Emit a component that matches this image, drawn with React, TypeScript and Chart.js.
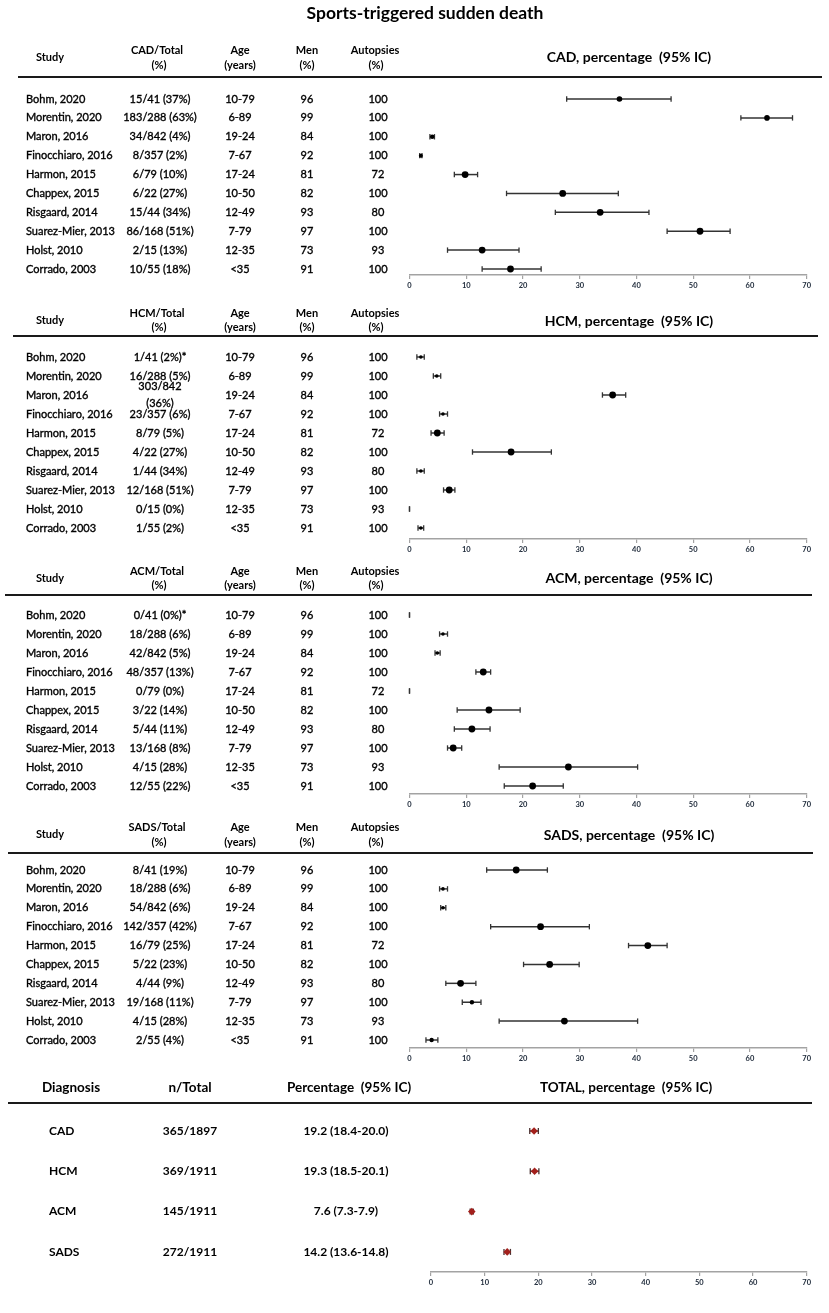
import React, { useEffect, useRef } from 'react';
import { Chart, registerables } from 'chart.js';

Chart.register(...registerables);

// ---------------- DATA ----------------
const studies = ['Bohm, 2020', 'Morentin, 2020', 'Maron, 2016', 'Finocchiaro, 2016', 'Harmon, 2015', 'Chappex, 2015', 'Risgaard, 2014', 'Suarez-Mier, 2013', 'Holst, 2010', 'Corrado, 2003'];
const ages = ['10-79', '6-89', '19-24', '7-67', '17-24', '10-50', '12-49', '7-79', '12-35', '<35'];
const menPct = ['96', '99', '84', '92', '81', '82', '93', '97', '73', '91'];
const autopsyPct = ['100', '100', '100', '100', '72', '100', '80', '100', '93', '100'];
const xTicks = [0, 10, 20, 30, 40, 50, 60, 70];

const cadCounts = ['15/41 (37%)', '183/288 (63%)', '34/842 (4%)', '8/357 (2%)', '6/79 (10%)', '6/22 (27%)', '15/44 (34%)', '86/168 (51%)', '2/15 (13%)', '10/55 (18%)'];
const cadEst = [37.0, 63.0, 4.0, 2.0, 9.8, 27.0, 33.6, 51.2, 12.8, 17.8];
const cadLow = [27.7, 58.4, 3.6, 1.8, 7.9, 17.1, 25.7, 45.4, 6.7, 12.8];
const cadHigh = [46.1, 67.5, 4.4, 2.2, 12.0, 36.8, 42.2, 56.5, 19.3, 23.2];

const hcmCounts = ['1/41 (2%)*', '16/288 (5%)', '303/842\n(36%)', '23/357 (6%)', '8/79 (5%)', '4/22 (27%)', '1/44 (34%)', '12/168 (51%)', '0/15 (0%)', '1/55 (2%)'];
const hcmEst = [2.0, 4.8, 35.8, 5.9, 4.9, 17.9, 2.0, 7.0, 0, 2.0];
const hcmLow = [1.3, 4.2, 34.0, 5.3, 3.8, 11.1, 1.3, 6.0, 0, 1.5];
const hcmHigh = [2.6, 5.5, 38.1, 6.7, 6.1, 25.0, 2.6, 8.0, 0, 2.5];

const acmCounts = ['0/41 (0%)*', '18/288 (6%)', '42/842 (5%)', '48/357 (13%)', '0/79 (0%)', '3/22 (14%)', '5/44 (11%)', '13/168 (8%)', '4/15 (28%)', '12/55 (22%)'];
const acmEst = [0, 5.9, 4.9, 13.0, 0, 14.0, 11.0, 7.7, 28.0, 21.7];
const acmLow = [0, 5.3, 4.5, 11.7, 0, 8.4, 7.9, 6.7, 15.8, 16.7];
const acmHigh = [0, 6.7, 5.4, 14.3, 0, 19.5, 14.2, 9.2, 40.2, 27.1];

const sadsCounts = ['8/41 (19%)', '18/288 (6%)', '54/842 (6%)', '142/357 (42%)', '16/79 (25%)', '5/22 (23%)', '4/44 (9%)', '19/168 (11%)', '4/15 (28%)', '2/55 (4%)'];
const sadsEst = [18.8, 5.9, 5.9, 23.1, 42.0, 24.7, 9.0, 11.0, 27.3, 3.9];
const sadsLow = [13.6, 5.3, 5.5, 14.3, 38.6, 20.1, 6.4, 9.3, 15.8, 2.9];
const sadsHigh = [24.3, 6.7, 6.4, 31.7, 45.4, 29.9, 11.7, 12.6, 40.2, 5.0];

const diagnoses = ['CAD', 'HCM', 'ACM', 'SADS'];
const totalCounts = ['365/1897', '369/1911', '145/1911', '272/1911'];
const totalEst = [19.2, 19.3, 7.6, 14.2];
const totalLow = [18.4, 18.5, 7.3, 13.6];
const totalHigh = [20.0, 20.1, 7.9, 14.8];

// ---------------- STYLE ----------------
const cadSizes = [2.8, 2.8, 2.2, 2.0, 3.4, 3.4, 3.4, 3.4, 3.4, 3.4];
const hcmSizes = [1.8, 1.8, 3.4, 1.8, 3.4, 3.4, 1.8, 3.4, 0, 1.8];
const acmSizes = [0, 1.8, 1.8, 3.4, 0, 3.4, 3.4, 3.4, 3.4, 3.4];
const sadsSizes = [3.4, 1.8, 1.8, 3.4, 3.4, 3.4, 3.4, 2.2, 3.4, 2.2];
const totalSizes = [3.8, 3.8, 3.8, 3.8];

const FONT = 'Lato, "Noto Sans", sans-serif';
const W = 829;

type Panel = {
  kind: 'study' | 'total';
  dx: string;
  counts: string[];
  est: number[];
  low: number[];
  high: number[];
  sizes: number[];
  top: number;
  height: number;
  headY1: number;
  headY2: number;
  studyY: number;
  titleY: number;
  hlineY: number;
  hlineX1: number;
  hlineX2: number;
  y0: number;
  d: number;
  axis: number;
  axisLeft: number;
  axisRight: number;
  markerColor: string;
  lineColor: string;
  markerStyle: string;
  capRadius: number;
  mainTitle?: string;
};

const panels: Panel[] = [
  { kind: 'study', dx: 'CAD', counts: cadCounts, est: cadEst, low: cadLow, high: cadHigh, sizes: cadSizes,
    top: 0, height: 298, headY1: 50, headY2: 65, studyY: 57, titleY: 57, hlineY: 77, hlineX1: 18, hlineX2: 822,
    y0: 99, d: 18.89, axis: 275, axisLeft: 409.5, axisRight: 806.7, markerColor: '#000', lineColor: '#333', markerStyle: 'circle', capRadius: 2.7,
    mainTitle: 'Sports-triggered sudden death' },
  { kind: 'study', dx: 'HCM', counts: hcmCounts, est: hcmEst, low: hcmLow, high: hcmHigh, sizes: hcmSizes,
    top: 298, height: 262, headY1: 313, headY2: 327, studyY: 320, titleY: 321, hlineY: 336, hlineX1: 13, hlineX2: 818,
    y0: 357, d: 19.0, axis: 539, axisLeft: 409.5, axisRight: 806.7, markerColor: '#000', lineColor: '#333', markerStyle: 'circle', capRadius: 2.7 },
  { kind: 'study', dx: 'ACM', counts: acmCounts, est: acmEst, low: acmLow, high: acmHigh, sizes: acmSizes,
    top: 560, height: 258, headY1: 571, headY2: 585, studyY: 578, titleY: 578, hlineY: 595, hlineX1: 5, hlineX2: 812,
    y0: 615, d: 19.0, axis: 794, axisLeft: 409.5, axisRight: 806.7, markerColor: '#000', lineColor: '#333', markerStyle: 'circle', capRadius: 2.7 },
  { kind: 'study', dx: 'SADS', counts: sadsCounts, est: sadsEst, low: sadsLow, high: sadsHigh, sizes: sadsSizes,
    top: 818, height: 257, headY1: 827, headY2: 842, studyY: 834, titleY: 835, hlineY: 853, hlineX1: 8, hlineX2: 813,
    y0: 870, d: 18.89, axis: 1048, axisLeft: 409.5, axisRight: 806.7, markerColor: '#000', lineColor: '#333', markerStyle: 'circle', capRadius: 2.7 },
  { kind: 'total', dx: 'TOTAL', counts: totalCounts, est: totalEst, low: totalLow, high: totalHigh, sizes: totalSizes,
    top: 1075, height: 238, headY1: 1088, headY2: 1088, studyY: 1088, titleY: 1088, hlineY: 1103, hlineX1: 8, hlineX2: 812,
    y0: 1131, d: 40.3, axis: 1272, axisLeft: 431, axisRight: 806.7, markerColor: '#a3201c', lineColor: '#4a3030', markerStyle: 'rectRot', capRadius: 3 },
];

const XH = 22;

function fillBold(ctx: CanvasRenderingContext2D, text: string, x: number, y: number, w: number) {
  ctx.fillText(text, x, y);
  if (w > 0) ctx.strokeText(text, x, y);
}

function drawTable(chart: any, p: Panel) {
  const ctx: CanvasRenderingContext2D = chart.ctx;
  const Y = (v: number) => v - p.top;
  const ys = chart.scales.y;
  ctx.save();
  ctx.textBaseline = 'middle';
  ctx.fillStyle = '#000';

  if (p.mainTitle) {
    ctx.font = `bold 17.5px ${FONT}`;
    ctx.textAlign = 'center';
    ctx.fillText(p.mainTitle, 425, Y(13));
  }

  // header rule
  ctx.strokeStyle = '#1a1a1a';
  ctx.lineWidth = 2;
  ctx.beginPath();
  ctx.moveTo(p.hlineX1, Y(p.hlineY));
  ctx.lineTo(p.hlineX2, Y(p.hlineY));
  ctx.stroke();

  if (p.kind === 'study') {
    ctx.font = `bold 11px ${FONT}`;
    ctx.textAlign = 'center';
    ctx.fillText('Study', 50, Y(p.studyY));
    ctx.fillText(`${p.dx}/Total`, 157, Y(p.headY1));
    ctx.fillText('(%)', 159, Y(p.headY2));
    ctx.fillText('Age', 240, Y(p.headY1));
    ctx.fillText('(years)', 240, Y(p.headY2));
    ctx.fillText('Men', 307, Y(p.headY1));
    ctx.fillText('(%)', 307, Y(p.headY2));
    ctx.fillText('Autopsies', 375, Y(p.headY1));
    ctx.fillText('(%)', 376, Y(p.headY2));

    ctx.font = `bold 14px ${FONT}`;
    ctx.fillText(`${p.dx}, percentage  (95% IC)`, 629, Y(p.titleY));

    ctx.font = `11px ${FONT}`;
    ctx.strokeStyle = '#000';
    ctx.lineWidth = 0.35;
    studies.forEach((name, i) => {
      const y = ys.getPixelForValue(i);
      ctx.textAlign = 'left';
      fillBold(ctx, name, 26, y, 1);
      ctx.textAlign = 'center';
      const lines = p.counts[i].split('\n');
      if (lines.length > 1) {
        fillBold(ctx, lines[0], 160, y - 9, 1);
        fillBold(ctx, lines[1], 160, y + 8, 1);
      } else {
        fillBold(ctx, lines[0], 160, y, 1);
      }
      fillBold(ctx, ages[i], 240, y, 1);
      fillBold(ctx, menPct[i], 307, y, 1);
      fillBold(ctx, autopsyPct[i], 378, y, 1);
    });
  } else {
    ctx.font = `bold 13.5px ${FONT}`;
    ctx.textAlign = 'center';
    ctx.fillText('Diagnosis', 71, Y(p.headY1));
    ctx.fillText('n/Total', 190, Y(p.headY1));
    ctx.fillText('Percentage  (95% IC)', 349, Y(p.headY1));
    ctx.fillText('TOTAL, percentage  (95% IC)', 626, Y(p.headY1));
    ctx.font = `bold 12px ${FONT}`;
    diagnoses.forEach((name, i) => {
      const y = ys.getPixelForValue(i);
      ctx.textAlign = 'left';
      ctx.fillText(name, 49, y);
      ctx.textAlign = 'center';
      ctx.fillText(p.counts[i], 190, y);
      ctx.fillText(`${p.est[i].toFixed(1)} (${p.low[i].toFixed(1)}-${p.high[i].toFixed(1)})`, 346, y);
    });
  }
  ctx.restore();
}

function ForestPanel({ p }: { p: Panel }) {
  const ref = useRef<HTMLCanvasElement>(null);
  useEffect(() => {
    const canvas = ref.current;
    if (!canvas) return;
    const chartBottom = p.axis - p.top;
    const padTop = p.y0 - p.d - p.top;
    const padBottom = p.height - XH - chartBottom;
    const yMax = (p.axis - p.y0) / p.d;

    const ciSets = p.est.map((_, i) => ({
      data: [{ x: p.low[i], y: i }, { x: p.high[i], y: i }],
      showLine: true,
      borderColor: p.lineColor,
      borderWidth: 1.5,
      pointStyle: 'line',
      rotation: 90,
      pointRadius: p.capRadius,
      pointHoverRadius: p.capRadius,
      pointBorderColor: p.lineColor,
      pointBorderWidth: 1.3,
      clip: false,
      order: 2,
    }));
    const markerSet = {
      data: p.est.map((v, i) => ({ x: v, y: i })),
      showLine: false,
      pointStyle: p.markerStyle,
      pointRadius: p.sizes,
      pointHoverRadius: p.sizes,
      pointBackgroundColor: p.markerColor,
      pointBorderColor: p.markerColor,
      pointBorderWidth: 0,
      clip: false,
      order: 1,
    };

    const tablePlugin = {
      id: 'tableText' + p.dx,
      afterDraw(chart: any) { drawTable(chart, p); },
    };

    const chart = new Chart(canvas, {
      type: 'scatter',
      data: { datasets: [markerSet, ...ciSets] as any },
      options: {
        animation: false,
        responsive: false,
        events: [],
        layout: { padding: { left: p.axisLeft, right: W - p.axisRight, top: padTop, bottom: padBottom } },
        plugins: { legend: { display: false }, tooltip: { enabled: false }, title: { display: false } },
        scales: {
          x: {
            type: 'linear',
            position: 'bottom',
            min: xTicks[0],
            max: xTicks[xTicks.length - 1],
            afterFit: (s: any) => { s.height = XH; },
            afterBuildTicks: (s: any) => { s.ticks = xTicks.map((v) => ({ value: v })); },
            ticks: {
              font: { family: FONT, size: 7.5, weight: 'bold' },
              color: '#1c2838',
              padding: 2,
              maxRotation: 0,
              autoSkip: false,
            },
            grid: { drawOnChartArea: false, drawTicks: true, tickLength: 4, color: '#a3a3a3', lineWidth: 1.2 },
            border: { display: true, color: '#a3a3a3', width: 1.6 },
          },
          y: { type: 'linear', display: false, reverse: true, min: -1, max: yMax },
        },
      } as any,
      plugins: [tablePlugin],
    });
    return () => chart.destroy();
  }, [p]);
  return (
    <canvas
      ref={ref}
      width={W}
      height={p.height}
      style={{ position: 'absolute', left: 0, top: p.top, width: W, height: p.height }}
    />
  );
}

export default function App() {
  useEffect(() => {
    document.body.style.margin = '0';
    document.body.style.background = '#fff';
  }, []);
  return (
    <div style={{ position: 'relative', width: W, height: 1313, background: '#fff', overflow: 'hidden' }}>
      {panels.map((p) => (
        <ForestPanel key={p.dx} p={p} />
      ))}
    </div>
  );
}
